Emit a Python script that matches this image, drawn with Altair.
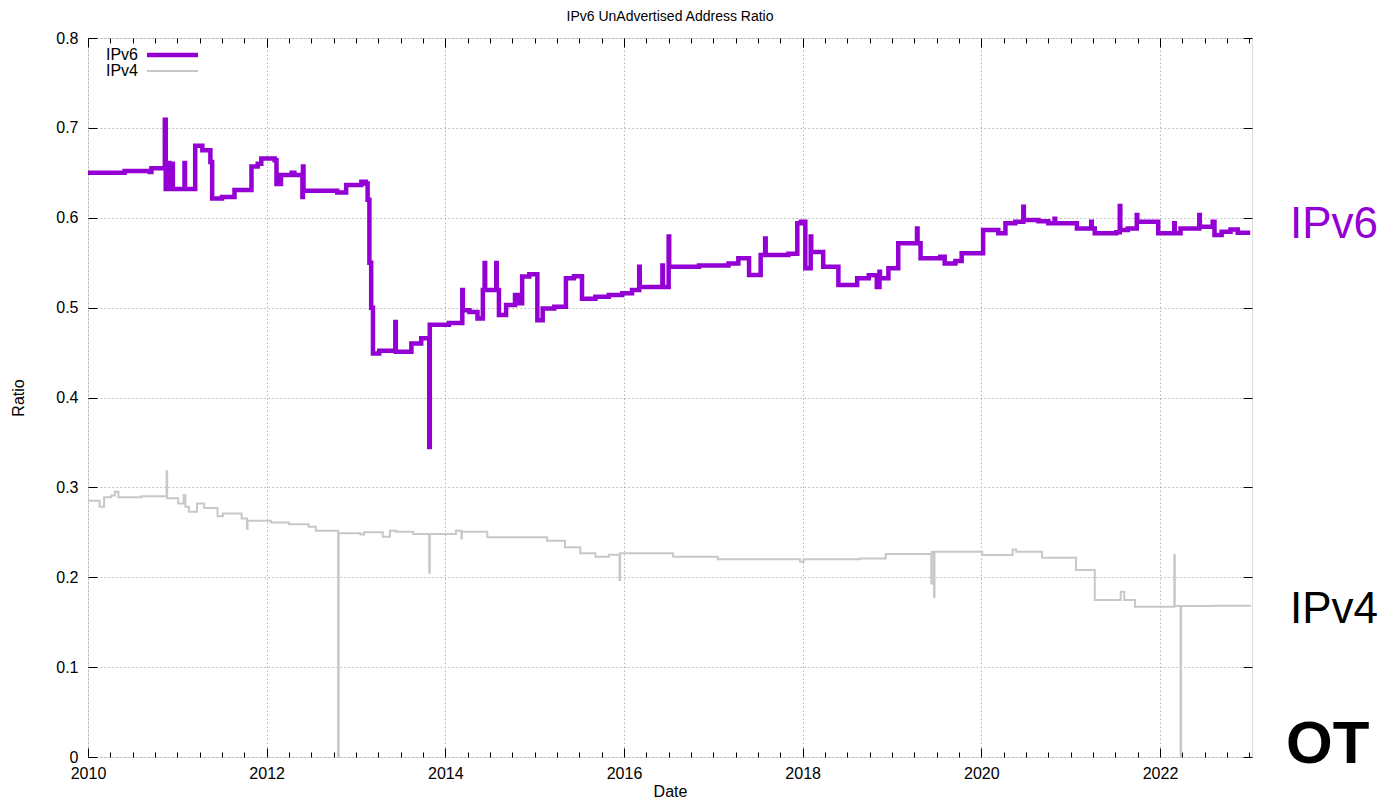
import altair as alt
import pandas as pd

# ---------------- data ----------------
TITLE = "IPv6 UnAdvertised Address Ratio"
X_TITLE = "Date"
Y_TITLE = "Ratio"

series_names = ["IPv6", "IPv4"]
series_colors = ["#9400d3", "#c8c8c8"]
series_widths = [4.5, 2]

ipv6_year = [
    2010.00, 2010.41, 2010.69, 2010.71, 2010.86, 2010.87, 2010.89, 2010.91, 2010.93, 2010.95,
    2011.08, 2011.086, 2011.20, 2011.28, 2011.37, 2011.39, 2011.50, 2011.64, 2011.83, 2011.90,
    2011.94, 2012.09, 2012.11, 2012.16, 2012.28, 2012.31, 2012.40, 2012.406, 2012.412, 2012.79,
    2012.89, 2013.06, 2013.11, 2013.13, 2013.15, 2013.17, 2013.19, 2013.26, 2013.44, 2013.446,
    2013.62, 2013.73, 2013.82, 2013.826, 2014.04, 2014.19, 2014.196, 2014.27, 2014.36, 2014.42,
    2014.44, 2014.446, 2014.57, 2014.576, 2014.60, 2014.68, 2014.78, 2014.83, 2014.86, 2014.94,
    2015.03, 2015.09, 2015.22, 2015.35, 2015.44, 2015.53, 2015.68, 2015.83, 2015.98, 2016.09,
    2016.17, 2016.176, 2016.43, 2016.436, 2016.50, 2016.506, 2016.84, 2017.17, 2017.28, 2017.40,
    2017.53, 2017.58, 2017.586, 2017.84, 2017.94, 2017.98, 2018.03, 2018.09, 2018.096, 2018.23,
    2018.40, 2018.61, 2018.74, 2018.83, 2018.86, 2018.866, 2018.96, 2019.07, 2019.28, 2019.286,
    2019.32, 2019.54, 2019.59, 2019.71, 2019.78, 2020.02, 2020.19, 2020.27, 2020.38, 2020.47,
    2020.476, 2020.64, 2020.75, 2020.82, 2020.826, 2021.07, 2021.23, 2021.236, 2021.27, 2021.51,
    2021.55, 2021.556, 2021.64, 2021.74, 2021.746, 2021.98, 2022.16, 2022.166, 2022.23, 2022.44,
    2022.446, 2022.59, 2022.61, 2022.69, 2022.79, 2022.87, 2023.01,
]
ipv6_ratio = [
    0.650, 0.652, 0.651, 0.655, 0.709, 0.632, 0.661, 0.632, 0.660, 0.632,
    0.661, 0.632, 0.680, 0.675, 0.662, 0.6215, 0.623, 0.631, 0.657, 0.660,
    0.666, 0.664, 0.6375, 0.6476, 0.650, 0.6476, 0.623, 0.657, 0.630, 0.628,
    0.6365, 0.640, 0.638, 0.620, 0.550, 0.500, 0.449, 0.452, 0.484, 0.451,
    0.460, 0.466, 0.345, 0.481, 0.483, 0.5196, 0.497, 0.495, 0.488, 0.5196,
    0.5496, 0.5196, 0.5496, 0.5196, 0.4918, 0.503, 0.514, 0.505, 0.5345, 0.537,
    0.486, 0.499, 0.501, 0.5326, 0.535, 0.510, 0.512, 0.514, 0.516, 0.5196,
    0.5455, 0.523, 0.547, 0.523, 0.579, 0.5455, 0.547, 0.549, 0.5548, 0.5363,
    0.5586, 0.577, 0.5586, 0.560, 0.5938, 0.5956, 0.5437, 0.579, 0.562, 0.5455,
    0.5252, 0.5326, 0.536, 0.523, 0.540, 0.5326, 0.5437, 0.5716, 0.588, 0.5716,
    0.5548, 0.5565, 0.549, 0.552, 0.5604, 0.5864, 0.5827, 0.5938, 0.5956, 0.6123,
    0.5975, 0.596, 0.5938, 0.599, 0.5938, 0.588, 0.5956, 0.588, 0.5827, 0.584,
    0.613, 0.5864, 0.588, 0.603, 0.5956, 0.5827, 0.5938, 0.5827, 0.588, 0.603,
    0.590, 0.5956, 0.5808, 0.5845, 0.587, 0.5834, 0.5834,
]

ipv4_year = [
    2010.00, 2010.13, 2010.18, 2010.26, 2010.30, 2010.34, 2010.60, 2010.88, 2010.886, 2011.01,
    2011.07, 2011.09, 2011.13, 2011.22, 2011.30, 2011.45, 2011.51, 2011.72, 2011.78, 2011.786,
    2012.05, 2012.25, 2012.47, 2012.55, 2012.80, 2012.806, 2013.05, 2013.09, 2013.30, 2013.38,
    2013.45, 2013.64, 2013.82, 2013.826, 2014.12, 2014.18, 2014.186, 2014.47, 2014.85, 2015.14,
    2015.34, 2015.51, 2015.68, 2015.83, 2015.95, 2015.956, 2016.55, 2017.05, 2017.97, 2018.01,
    2018.64, 2018.93, 2019.39, 2019.44, 2019.446, 2019.47, 2019.476, 2020.01, 2020.35, 2020.39,
    2020.68, 2021.06, 2021.27, 2021.56, 2021.60, 2021.72, 2022.16, 2022.166, 2022.23, 2022.236,
    2022.60, 2023.01,
]
ipv4_ratio = [
    0.285, 0.2785, 0.289, 0.291, 0.295, 0.289, 0.290, 0.318, 0.288, 0.282,
    0.2915, 0.2785, 0.273, 0.282, 0.277, 0.268, 0.271, 0.2655, 0.254, 0.263,
    0.261, 0.259, 0.2563, 0.2518, 0.0, 0.249, 0.2475, 0.250, 0.245, 0.2518,
    0.2507, 0.248, 0.205, 0.248, 0.2518, 0.243, 0.2507, 0.2444, 0.2444, 0.2407,
    0.2333, 0.2266, 0.2229, 0.225, 0.197, 0.2266, 0.2229, 0.220, 0.2173, 0.220,
    0.221, 0.2259, 0.2259, 0.193, 0.228, 0.178, 0.2285, 0.2248, 0.231, 0.2285,
    0.2218, 0.208, 0.1747, 0.184, 0.1747, 0.1673, 0.2248, 0.168, 0.0, 0.168,
    0.1684, 0.169,
]

x_major = [2010, 2012, 2014, 2016, 2018, 2020, 2022]
x_minor = [2010 + q / 4 for q in range(0, 53) if q % 8 != 0]
y_ticks = [0, 0.1, 0.2, 0.3, 0.4, 0.5, 0.6, 0.7, 0.8]
x_domain = [2010, 2023.03]
y_domain = [0, 0.8]

side_labels = ["IPv6", "IPv4"]
side_label_colors = ["#9400d3", "#000000"]
slide_text = "OT"

# ---------------- layout / style ----------------
W, H = 1164, 719
FONT = "Liberation Sans"
GRID = "#b4b4b4"

df6 = pd.DataFrame({"year": ipv6_year, "ratio": ipv6_ratio, "series": series_names[0]})
df4 = pd.DataFrame({"year": ipv4_year, "ratio": ipv4_ratio, "series": series_names[1]})

xs = alt.Scale(domain=x_domain, nice=False, zero=False)
ys = alt.Scale(domain=y_domain, nice=False, zero=False)


def tick_axis(orient, values, size):
    return alt.Axis(orient=orient, values=values, offset=-size, tickSize=size,
                    ticks=True, labels=False, domain=False, grid=False, title=None,
                    tickColor="black", tickWidth=1)


x_main = alt.Axis(orient="bottom", values=x_major, format="d", title=X_TITLE,
                  labelFlush=False, labelOverlap=False, ticks=False, tickSize=0,
                  domain=False, grid=True, gridColor=GRID, gridDash=[1.5, 2.5], gridWidth=1,
                  labelPadding=8, labelFontSize=16, titleFontSize=16,
                  titleFontWeight="normal", titleY=34, titleBaseline="middle")
y_main = alt.Axis(orient="left", values=y_ticks, format=".1~f", title=Y_TITLE,
                  labelFlush=False, labelOverlap=False, ticks=False, tickSize=0,
                  domain=False, grid=True, gridColor=GRID, gridDash=[1.5, 2.5], gridWidth=1,
                  labelPadding=10, labelFontSize=16, titleFontSize=16,
                  titleFontWeight="normal", titleX=-70, titleY=H / 2, titleBaseline="middle")

line4 = alt.Chart(df4).mark_line(color=series_colors[1], strokeWidth=series_widths[1],
                                 interpolate="step-after").encode(
    x=alt.X("year:Q", scale=xs, axis=None),
    y=alt.Y("ratio:Q", scale=ys, axis=None),
)
line6 = alt.Chart(df6).mark_line(color=series_colors[0], strokeWidth=series_widths[0],
                                 interpolate="step-after").encode(
    x=alt.X("year:Q", scale=xs, axis=x_main),
    y=alt.Y("ratio:Q", scale=ys, axis=y_main),
)


def ghost(xaxis, yaxis):
    return alt.Chart(df6).mark_point(opacity=0).encode(
        x=alt.X("year:Q", scale=xs, axis=xaxis),
        y=alt.Y("ratio:Q", scale=ys, axis=yaxis),
    )


t1 = ghost(tick_axis("bottom", x_major, 9), tick_axis("left", y_ticks, 9))
t2 = ghost(tick_axis("bottom", x_minor, 5), tick_axis("right", y_ticks, 9))
t3 = ghost(tick_axis("top", x_major, 9), None)
t4 = ghost(tick_axis("top", x_minor, 5), None)

# legend (gnuplot style: label then line sample)
legend_layers = []
for i, name in enumerate(series_names):
    row_y = 17 + 16 * i
    legend_layers.append(
        alt.Chart(pd.DataFrame({"t": [name]})).mark_text(
            align="right", baseline="middle", fontSize=16, font=FONT, color="black"
        ).encode(text="t:N", x=alt.value(50), y=alt.value(row_y))
    )
    legend_layers.append(
        alt.Chart(pd.DataFrame({"t": [name]})).mark_rule(
            color=series_colors[i], strokeWidth=series_widths[i]
        ).encode(x=alt.value(59), x2=alt.value(110), y=alt.value(row_y))
    )

# slide annotations to the right of the plot
side_y = [187, 572]
side_layers = []
for lab, col, yy in zip(side_labels, side_label_colors, side_y):
    side_layers.append(
        alt.Chart(pd.DataFrame({"t": [lab]})).mark_text(
            align="left", baseline="middle", fontSize=44, font=FONT, color=col
        ).encode(text="t:N", x=alt.value(1202), y=alt.value(yy))
    )
side_layers.append(
    alt.Chart(pd.DataFrame({"t": [slide_text]})).mark_text(
        align="left", baseline="middle", fontSize=60, font=FONT, fontWeight="bold", color="black"
    ).encode(text="t:N", x=alt.value(1198), y=alt.value(707))
)

chart = alt.layer(
    line4, line6, t1, t2, t3, t4, *legend_layers, *side_layers
).resolve_axis(
    x="independent", y="independent"
).properties(
    width=W, height=H,
    title=alt.TitleParams(TITLE, fontSize=14, fontWeight="normal", anchor="middle",
                          font=FONT, offset=6, color="black"),
    autosize=alt.AutoSizeParams(type="none"),
    padding={"left": 80, "top": 30, "right": 129, "bottom": 41},
).configure_view(
    stroke="black", strokeWidth=1
).configure_axis(
    labelFont=FONT, titleFont=FONT, labelColor="black", titleColor="black",
    titleFontWeight="normal"
).configure(background="white")

chart.save("out.html", embed_options={"renderer": "svg", "actions": False})
